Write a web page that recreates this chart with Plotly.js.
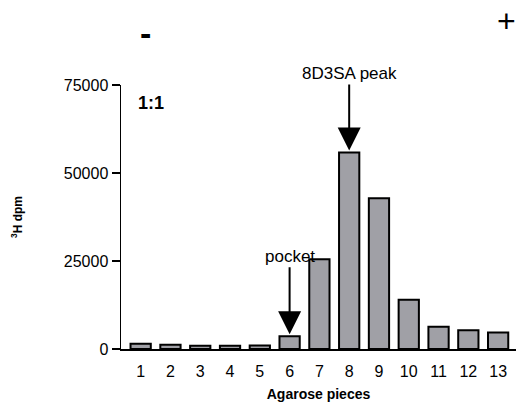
<!DOCTYPE html>
<html>
<head>
<meta charset="utf-8">
<script src="https://cdn.plot.ly/plotly-3.0.1.min.js"></script>
<style>html,body{margin:0;padding:0;background:#fff;}#chart{width:516px;height:403px;}</style>
</head>
<body>
<div id="chart"></div>
<script>
const pieces = [1,2,3,4,5,6,7,8,9,10,11,12,13];
const dpm = [1500,1200,900,900,1000,3600,25500,55800,42800,14000,6300,5300,4700];
const yTicks = [0,25000,50000,75000];
const pocketPiece = 6;
const peakPiece = 8;

const font = "Arial, 'Liberation Sans', sans-serif";

const trace = {
  type: 'bar',
  x: pieces,
  y: dpm,
  width: 0.68,
  marker: {color: '#a0a0a6', line: {color: '#000', width: 2}},
  hoverinfo: 'skip'
};

const plotH = 403 - 85 - 54, plotW = 516 - 121;

const layout = {
  width: 516, height: 403,
  margin: {l: 121, r: 0, t: 85, b: 54, pad: 0},
  paper_bgcolor: '#fff', plot_bgcolor: '#fff',
  showlegend: false,
  font: {family: font, color: '#000'},
  xaxis: {
    range: [0.34, 13.6],
    tickvals: pieces,
    ticktext: pieces.map(String),
    ticks: '',
    ticklabelstandoff: 7,
    showgrid: false, zeroline: false,
    showline: true, linecolor: '#000', linewidth: 1.5,
    tickfont: {size: 16, family: font},
    title: {text: '<b>Agarose pieces</b>', font: {size: 14, family: font}, standoff: 10}
  },
  yaxis: {
    range: [0, 75000],
    tickvals: yTicks,
    ticktext: yTicks.map(String),
    ticks: 'outside', ticklen: 8, tickwidth: 1.5, tickcolor: '#000',
    showgrid: false, zeroline: false,
    showline: true, linecolor: '#000', linewidth: 1.5,
    tickfont: {size: 16, family: font},
    title: {text: '<b><sup>3</sup>H dpm</b>', font: {size: 12, family: font}, standoff: 38}
  },
  annotations: [
    {x: peakPiece, y: dpm[peakPiece-1], xref: 'x', yref: 'y', text: '8D3SA peak', showarrow: true,
     ax: 0, ay: -79, arrowhead: 2, arrowsize: 2.3, arrowwidth: 2, arrowcolor: '#000', standoff: 2,
     font: {size: 17, family: font}},
    {x: pocketPiece, y: dpm[pocketPiece-1], xref: 'x', yref: 'y', text: 'pocket', showarrow: true,
     ax: 0, ay: -80, arrowhead: 2, arrowsize: 2.3, arrowwidth: 2, arrowcolor: '#000', standoff: 2,
     font: {size: 17, family: font}},
    {xref: 'paper', yref: 'paper', x: (136 - 121) / plotW, y: (349 - 103) / plotH,
     xanchor: 'left', yanchor: 'middle',
     text: '<b>1:1</b>', showarrow: false, font: {size: 18, family: font}},
    {xref: 'paper', yref: 'paper', x: (145 - 121) / plotW, y: (349 - 33) / plotH,
     xanchor: 'center', yanchor: 'middle',
     text: '<b>-</b>', showarrow: false, font: {size: 34, family: font}},
    {xref: 'paper', yref: 'paper', x: (506 - 121) / plotW, y: (349 - 21) / plotH,
     xanchor: 'center', yanchor: 'middle',
     text: '+', showarrow: false, font: {size: 32, family: font}}
  ]
};

Plotly.newPlot('chart', [trace], layout, {staticPlot: true, displayModeBar: false});
</script>
</body>
</html>
